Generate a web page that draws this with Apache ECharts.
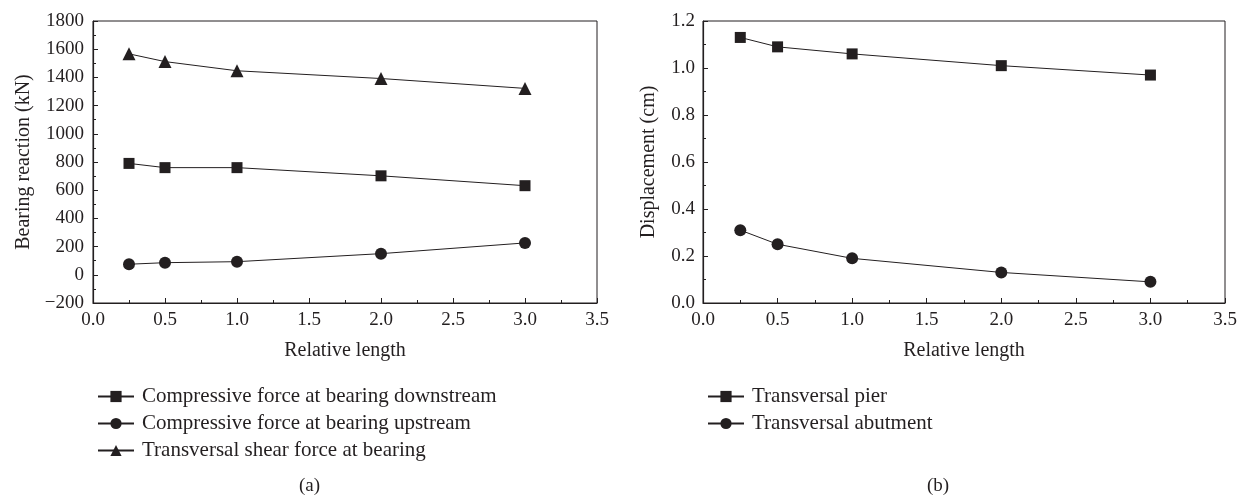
<!DOCTYPE html>
<html>
<head>
<meta charset="utf-8">
<script src="https://cdn.jsdelivr.net/npm/echarts@6/dist/echarts.min.js"></script>
<style>
  html, body { margin: 0; padding: 0; background: #fff; }
  #chart { width: 1250px; height: 503px; }
</style>
</head>
<body>
<div id="chart"></div>
<script>
// Relative length values shared by both panels
const relativeLength = [0.25, 0.5, 1.0, 2.0, 3.0];

// Panel (a): bearing reactions (kN)
const downstreamForce = [790, 760, 760, 702, 632];
const upstreamForce = [75, 86, 93, 150, 226];
const shearForce = [1567, 1512, 1447, 1392, 1322];

// Panel (b): displacements (cm)
const pierDisp = [1.13, 1.09, 1.06, 1.01, 0.97];
const abutmentDisp = [0.31, 0.25, 0.19, 0.13, 0.09];

const seriesNamesA = [
  'Compressive force at bearing downstream',
  'Compressive force at bearing upstream',
  'Transversal shear force at bearing'
];
const seriesNamesB = ['Transversal pier', 'Transversal abutment'];

const ink = '#231f20';
const fontFamily = '"Liberation Serif", "DejaVu Serif", serif';

function pairs(xs, ys) { return xs.map((x, i) => [x, ys[i]]); }

function xAxisCfg(gridIndex) {
  return {
    gridIndex, type: 'value', min: 0, max: 3.5, interval: 0.5,
    name: 'Relative length', nameLocation: 'middle', nameGap: 38,
    nameTextStyle: { color: ink, fontSize: 20, fontFamily },
    axisLine: { onZero: false, lineStyle: { color: ink, width: 1.2 } },
    axisTick: { inside: true, length: 5, lineStyle: { color: ink } },
    minorTick: { show: true, splitNumber: 2, length: 3, lineStyle: { color: ink } },
    axisLabel: { color: ink, fontSize: 19, fontFamily, margin: 8,
      formatter: v => v.toFixed(1) },
    splitLine: { show: false }
  };
}

function yAxisCfg(gridIndex, opts) {
  return Object.assign({
    gridIndex, type: 'value', nameLocation: 'middle',
    nameTextStyle: { color: ink, fontSize: 20, fontFamily },
    axisLine: { show: true, onZero: false, lineStyle: { color: ink, width: 1.2 } },
    axisTick: { inside: true, length: 5, lineStyle: { color: ink } },
    minorTick: { show: true, splitNumber: 2, length: 3, lineStyle: { color: ink } },
    splitLine: { show: false }
  }, opts);
}

function lineSeries(name, data, symbol, size, xi, yi) {
  return {
    name, type: 'line', data, symbol, symbolSize: size,
    xAxisIndex: xi, yAxisIndex: yi,
    itemStyle: { color: ink },
    lineStyle: { color: ink, width: 1 },
    emphasis: { disabled: true },
    animation: false
  };
}

const legendBase = {
  orient: 'vertical', top: 381,
  itemWidth: 36, itemHeight: 14, itemGap: 6,
  textStyle: { color: ink, fontSize: 21, fontFamily, padding: [0, 0, 0, 3] },
  selectedMode: false
};

const chart = echarts.init(document.getElementById('chart'));
chart.setOption({
  animation: false,
  grid: [
    { left: 93, top: 21, width: 504, height: 282, show: true, borderColor: ink, borderWidth: 1 },
    { left: 703, top: 21, width: 522, height: 282, show: true, borderColor: ink, borderWidth: 1 }
  ],
  xAxis: [xAxisCfg(0), xAxisCfg(1)],
  yAxis: [
    yAxisCfg(0, { min: -200, max: 1800, interval: 200, name: 'Bearing reaction (kN)', nameGap: 59,
      axisLabel: { color: ink, fontSize: 19, fontFamily, margin: 9,
        formatter: v => (v < 0 ? '\u2212' + Math.abs(v) : String(v)) } }),
    yAxisCfg(1, { min: 0, max: 1.2, interval: 0.2, name: 'Displacement (cm)', nameGap: 44,
      axisLabel: { color: ink, fontSize: 19, fontFamily, margin: 8,
        formatter: v => v.toFixed(1) } })
  ],
  legend: [
    Object.assign({ data: seriesNamesA, left: 92 }, legendBase),
    Object.assign({ data: seriesNamesB, left: 702 }, legendBase)
  ],
  graphic: [
    { type: 'text', left: 299, top: 477, style: { text: '(a)', fill: ink, font: '19px ' + fontFamily } },
    { type: 'text', left: 927, top: 477, style: { text: '(b)', fill: ink, font: '19px ' + fontFamily } }
  ],
  series: [
    lineSeries(seriesNamesA[0], pairs(relativeLength, downstreamForce), 'rect', 11, 0, 0),
    lineSeries(seriesNamesA[1], pairs(relativeLength, upstreamForce), 'circle', 12, 0, 0),
    lineSeries(seriesNamesA[2], pairs(relativeLength, shearForce), 'triangle', 13, 0, 0),
    lineSeries(seriesNamesB[0], pairs(relativeLength, pierDisp), 'rect', 11, 1, 1),
    lineSeries(seriesNamesB[1], pairs(relativeLength, abutmentDisp), 'circle', 12, 1, 1)
  ]
});
</script>
</body>
</html>
